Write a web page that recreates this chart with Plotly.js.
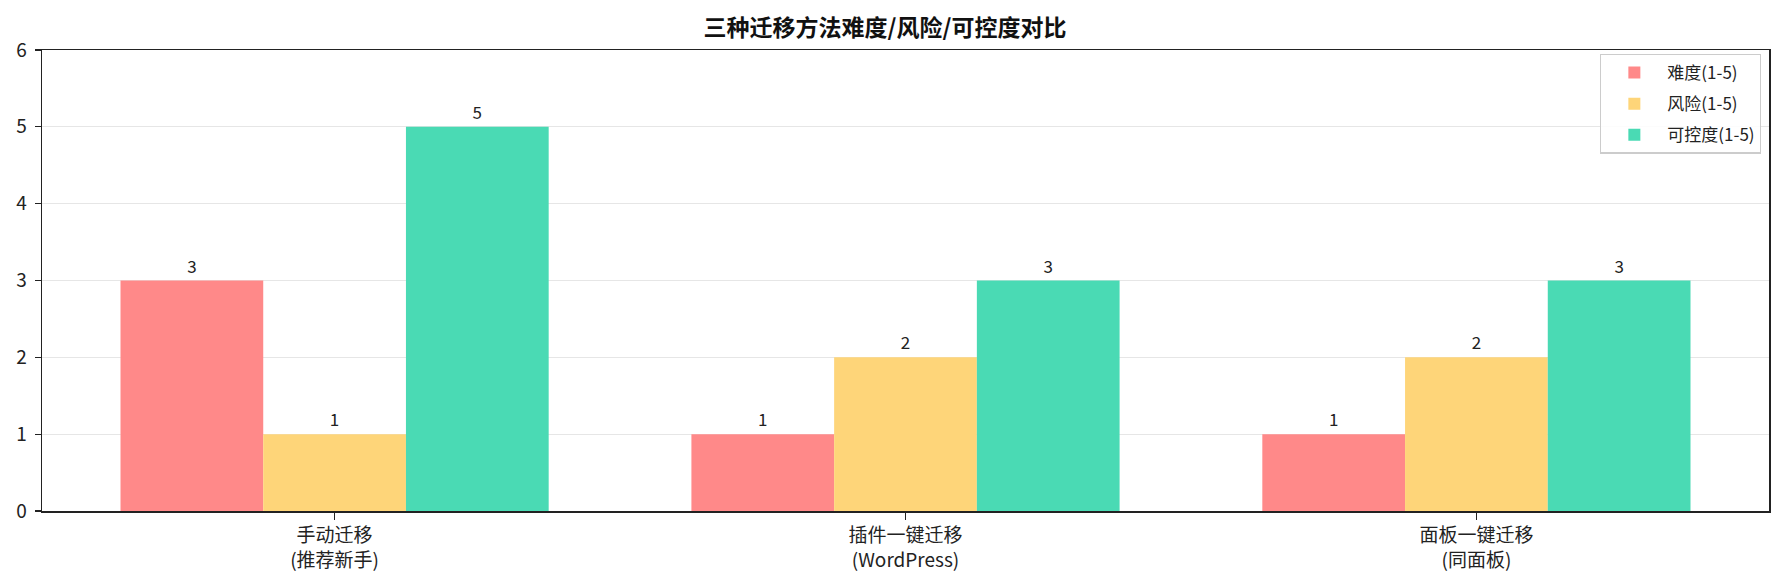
<!DOCTYPE html>
<html>
<head>
<meta charset="utf-8">
<script src="https://cdn.plot.ly/plotly-3.0.1.min.js"></script>
<style>
  html, body { margin: 0; padding: 0; background: #fff; }
  #chart { width: 1785px; height: 585px; }
</style>
</head>
<body>
<div id="chart"></div>
<script>
const categories = ['手动迁移<br>(推荐新手)', '插件一键迁移<br>(WordPress)', '面板一键迁移<br>(同面板)'];
const seriesNames = ['难度(1-5)', '风险(1-5)', '可控度(1-5)'];
const difficulty = [3, 1, 1];
const risk = [1, 2, 2];
const control = [5, 3, 3];
const seriesColors = ['#FF8989', '#FED579', '#4ADAB4'];
const titleText = '三种迁移方法难度/风险/可控度对比';
const yTicks = [0, 1, 2, 3, 4, 5, 6];

const FONT = '"Noto Sans CJK SC", "Noto Sans", sans-serif';
const xIdx = categories.map((_, i) => i);
const seriesValues = [difficulty, risk, control];

const traces = seriesValues.map((vals, k) => ({
  type: 'bar',
  name: seriesNames[k],
  legendgroup: 'g' + k,
  x: xIdx,
  y: vals,
  text: vals.map(String),
  textposition: 'outside',
  cliponaxis: false,
  textfont: { family: FONT, size: 17, color: '#222' },
  marker: { color: seriesColors[k], line: { width: 0 } },
  width: 0.25
}));

const layout = {
  width: 1785,
  height: 585,
  paper_bgcolor: '#fff',
  plot_bgcolor: '#fff',
  font: { family: FONT, color: '#222' },
  margin: { l: 42, r: 16, t: 50, b: 74 },
  barmode: 'group',
  bargap: 0.25,
  bargroupgap: 0,
  showlegend: true,
  title: {
    text: '<b>' + titleText + '</b>',
    font: { family: FONT, size: 23, color: '#111' },
    x: 0.4958, xref: 'container', xanchor: 'center',
    y: 1 - 28 / 585, yref: 'container', yanchor: 'middle'
  },
  xaxis: {
    range: [-0.5125, 2.5125],
    tickmode: 'array',
    tickvals: xIdx,
    ticktext: categories,
    ticks: 'outside', ticklen: 7, tickwidth: 1.3, tickcolor: '#222',
    tickfont: { family: FONT, size: 19, color: '#222' },
    showline: true, linecolor: '#222', linewidth: 1.5, mirror: true,
    showgrid: false, zeroline: false, fixedrange: true
  },
  yaxis: {
    range: [0, 6],
    tickmode: 'array',
    tickvals: yTicks,
    ticktext: yTicks.map(String),
    ticks: 'outside', ticklen: 6, tickwidth: 1.3, tickcolor: '#222',
    tickfont: { family: FONT, size: 19, color: '#222' },
    ticklabelstandoff: 4,
    showline: true, linecolor: '#222', linewidth: 1.5, mirror: true,
    showgrid: true, gridcolor: '#e6e6e6', gridwidth: 1.2,
    zeroline: false, fixedrange: true
  },
  legend: {
    x: 0.9954, xanchor: 'right',
    y: 0.992, yanchor: 'top',
    bgcolor: 'rgba(255,255,255,0.85)',
    bordercolor: '#cccccc', borderwidth: 1.3,
    font: { family: FONT, size: 17, color: '#222' },
    tracegroupgap: 6,
    itemwidth: 56
  }
};

Plotly.newPlot('chart', traces, layout, { staticPlot: true, displayModeBar: false });
</script>
</body>
</html>
